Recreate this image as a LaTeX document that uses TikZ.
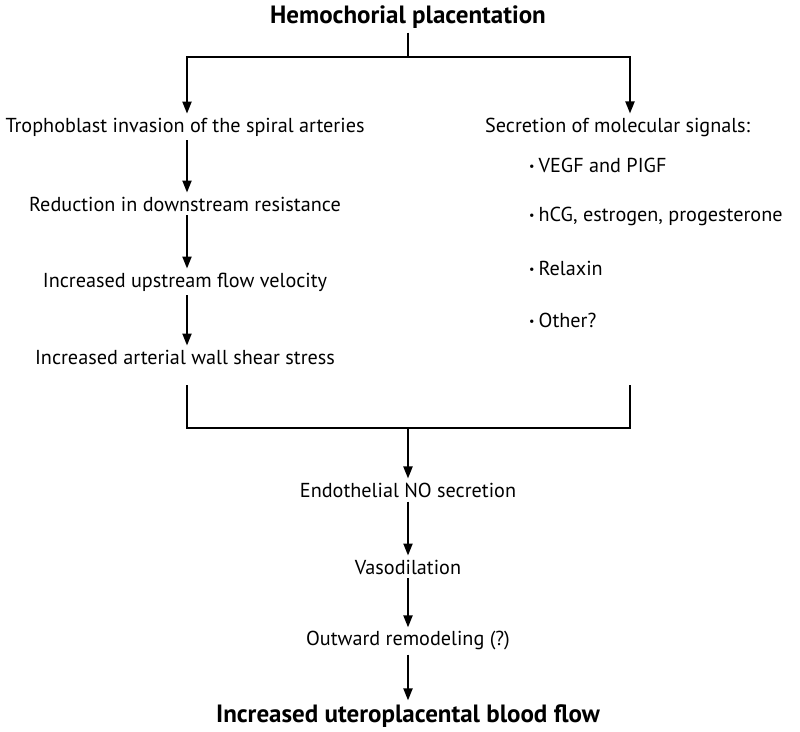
\documentclass[tikz,border=0pt]{standalone}
\usepackage{fontspec}
\setmainfont{PT Sans}
\usetikzlibrary{positioning,arrows.meta}

\tikzset{
	txt/.style={inner sep=4pt, font=\fontsize{20.2}{23}\selectfont},
	headtxt/.style={inner sep=4pt, font=\fontsize{25}{28}\selectfont\bfseries},
	arr/.style={-{Triangle[length=12pt,width=9pt]}, line width=2pt},
	ln/.style={line width=2pt},
}
\newcommand{\sbul}{\raisebox{0.1em}{\scalebox{0.6}{\textbullet}}\hspace{4pt}}

\begin{document}
\begin{tikzpicture}[x=1pt,y=-1pt]
	\useasboundingbox (0,0) rectangle (800,731);
	% titolo
	\node[headtxt] (title) at (408,17) {Hemochorial placentation};
	\coordinate (split) at (408,57);
	\coordinate (rarm) at (630,0);
	
	% colonna sinistra
	\node[txt] (troph) at (185,127) {Trophoblast invasion of the spiral arteries};
	\node[txt] (resist) at (185,204) {Reduction in downstream resistance};
	\node[txt] (veloc) at (185,282) {Increased upstream flow velocity};
	\node[txt] (shear) at (185,357) {Increased arterial wall shear stress};
	
	% colonna destra
	\node[txt, anchor=west] (secr) at (481,127) {Secretion of molecular signals:};
	\node[txt, anchor=west] (vegf) at (525,165) {\sbul VEGF and PIGF};
	\node[txt, anchor=west] (hcg) at (525,216) {\sbul hCG, estrogen, progesterone};
	\node[txt, anchor=west] (relax) at (525,268) {\sbul Relaxin};
	\node[txt, anchor=west] (other) at (525,320) {\sbul Other?};
	
	% parte centrale
	\coordinate (lt) at (187,385);
	\coordinate (rt) at (630,385);
	\coordinate (join) at (408,428);
	\node[txt] (endo) at (408,490) {Endothelial NO secretion};
	\node[txt] (vaso) at (408,567) {Vasodilation};
	\node[txt] (remod) at (408,641) {Outward remodeling (?)};
	\node[headtxt] (flow) at (408,716) {Increased uteroplacental blood flow};
	
	% frecce
	\draw[ln] (title) -- (split);
	\draw[arr] (split) -| ([xshift=2pt]troph.north);
	\draw[arr] (split) -| (secr.north -| rarm);
	\draw[arr] ([xshift=2pt]troph.south) -- ([xshift=2pt]resist.north);
	\draw[arr] ([xshift=2pt]resist.south) -- ([xshift=2pt]veloc.north);
	\draw[arr] ([xshift=2pt]veloc.south) -- ([xshift=2pt]shear.north);
	\draw[ln] (lt) |- (join) -| (rt);
	\draw[arr] (join) -- (endo);
	\draw[arr] (endo) -- (vaso);
	\draw[arr] (vaso) -- (remod);
	\draw[arr] (remod) -- (flow);
\end{tikzpicture}
\end{document}
